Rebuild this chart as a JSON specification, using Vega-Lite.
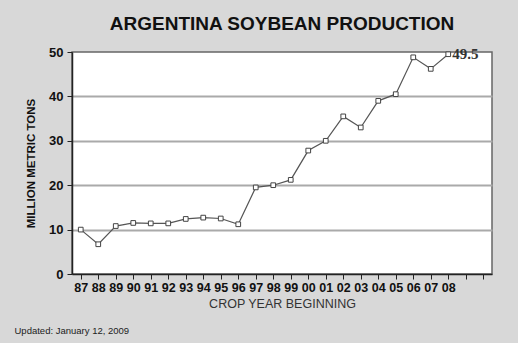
{
  "$schema": "https://vega.github.io/schema/vega-lite/v6.json",
  "width": 420,
  "height": 222,
  "padding": {"left": 14, "top": 15, "right": 26, "bottom": 8},
  "background": "#d8d8d8",
  "config": {
    "font": "Liberation Sans",
    "view": {"fill": "white", "stroke": "#666", "strokeWidth": 1.5}
  },
  "title": {
    "text": "ARGENTINA SOYBEAN PRODUCTION",
    "fontSize": 19,
    "fontWeight": "bold",
    "color": "#111",
    "anchor": "middle",
    "offset": 12
  },
  "data": {
    "values": [
      {"year": 1987, "value": 10.0},
      {"year": 1988, "value": 6.7},
      {"year": 1989, "value": 10.8},
      {"year": 1990, "value": 11.5},
      {"year": 1991, "value": 11.4},
      {"year": 1992, "value": 11.4},
      {"year": 1993, "value": 12.4},
      {"year": 1994, "value": 12.7},
      {"year": 1995, "value": 12.5},
      {"year": 1996, "value": 11.2},
      {"year": 1997, "value": 19.5},
      {"year": 1998, "value": 20.0},
      {"year": 1999, "value": 21.2},
      {"year": 2000, "value": 27.8},
      {"year": 2001, "value": 30.0},
      {"year": 2002, "value": 35.5},
      {"year": 2003, "value": 33.0},
      {"year": 2004, "value": 39.0},
      {"year": 2005, "value": 40.5},
      {"year": 2006, "value": 48.8},
      {"year": 2007, "value": 46.2},
      {"year": 2008, "value": 49.5}
    ]
  },
  "layer": [
    {
      "mark": {
        "type": "line",
        "color": "#555",
        "strokeWidth": 1.2,
        "point": {"shape": "square", "filled": true, "fill": "white", "stroke": "#444", "strokeWidth": 1, "size": 22}
      },
      "encoding": {
        "x": {
          "field": "year",
          "type": "quantitative",
          "scale": {"domain": [1986.5, 2010.5], "nice": false, "zero": false},
          "axis": {
            "title": "CROP YEAR BEGINNING",
            "titleFontSize": 12.5,
            "titleFontWeight": "normal",
            "titleColor": "#333",
            "titlePadding": 4,
            "values": [1987,1988,1989,1990,1991,1992,1993,1994,1995,1996,1997,1998,1999,2000,2001,2002,2003,2004,2005,2006,2007,2008,2009,2010],
            "labelExpr": "datum.value <= 2008 ? slice(toString(datum.value), 2) : ''",
            "labelFontSize": 12.5,
            "labelFontWeight": "bold",
            "labelColor": "#111",
            "labelPadding": 2,
            "labelFlush": false,
            "labelOverlap": false,
            "grid": false,
            "domainColor": "#222",
            "domainWidth": 1.5,
            "tickColor": "#222",
            "tickSize": 5
          }
        },
        "y": {
          "field": "value",
          "type": "quantitative",
          "scale": {"domain": [0, 50], "nice": false},
          "axis": {
            "title": "MILLION METRIC TONS",
            "titleFontSize": 11.5,
            "titleFontWeight": "bold",
            "titleColor": "#111",
            "titlePadding": 12,
            "values": [0,5,10,15,20,25,30,35,40,45,50],
            "labelExpr": "datum.value % 10 === 0 ? datum.label : ''",
            "labelFontSize": 13,
            "labelFontWeight": "bold",
            "labelColor": "#111",
            "labelPadding": 4,
            "grid": true,
            "gridColor": "#aaa",
            "gridWidth": 2,
            "gridOpacity": {"condition": {"test": "datum.value % 10 === 0 && datum.value > 0 && datum.value < 50", "value": 1}, "value": 0},
            "domainColor": "#222",
            "domainWidth": 1.5,
            "tickColor": "#222",
            "tickSize": 5
          }
        }
      }
    },
    {
      "transform": [{"filter": "datum.year === 2008"}],
      "mark": {"type": "text", "font": "Liberation Serif", "fontSize": 15, "fontWeight": "bold", "align": "left", "baseline": "middle", "dx": 4, "color": "#333"},
      "encoding": {
        "x": {"field": "year", "type": "quantitative", "axis": null},
        "y": {"field": "value", "type": "quantitative"},
        "text": {"field": "value", "type": "quantitative", "format": ".1f"}
      }
    },
    {
      "mark": {"type": "rule", "opacity": 0},
      "encoding": {
        "x": {
          "field": "year",
          "type": "quantitative",
          "scale": {"domain": [1986.5, 2010.5], "nice": false, "zero": false},
          "axis": {
            "orient": "bottom",
            "title": "Updated: January 12, 2009",
            "titleFontSize": 9.5,
            "titleFontWeight": "normal",
            "titleColor": "#222",
            "titleAnchor": "start",
            "titleAlign": "left",
            "titleBaseline": "alphabetic",
            "titleX": -58,
            "titleY": 59,
            "labels": false,
            "ticks": false,
            "domain": false,
            "grid": false
          }
        }
      }
    }
  ],
  "resolve": {"axis": {"x": "independent"}}
}
